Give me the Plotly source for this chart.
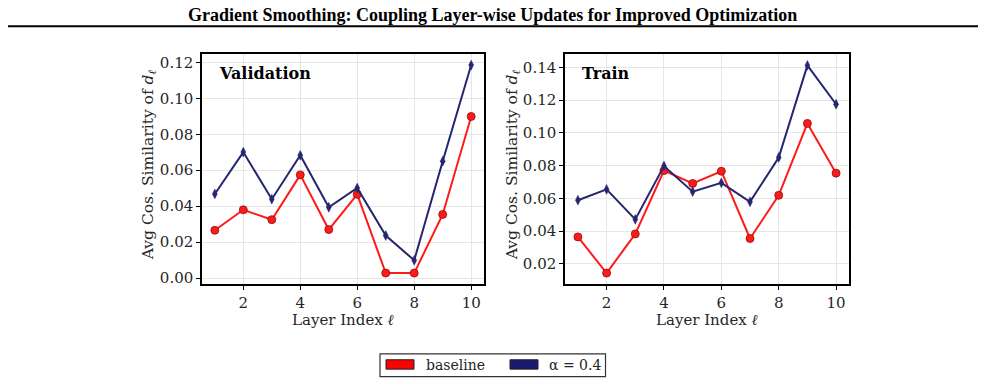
import plotly.graph_objects as go

layers = [1, 2, 3, 4, 5, 6, 7, 8, 9, 10]
val_baseline = [0.0266, 0.0380, 0.0325, 0.0574, 0.0270, 0.0466, 0.0028, 0.0028, 0.0354, 0.0899]
val_alpha = [0.0468, 0.0701, 0.0439, 0.0683, 0.0394, 0.0501, 0.0237, 0.0099, 0.0650, 0.1185]
train_baseline = [0.0365, 0.0144, 0.0383, 0.0770, 0.0691, 0.0766, 0.0355, 0.0619, 0.1058, 0.0754]
train_alpha = [0.0589, 0.0655, 0.0472, 0.0798, 0.0641, 0.0695, 0.0579, 0.0850, 0.1412, 0.1175]
val_yticks = [0.00, 0.02, 0.04, 0.06, 0.08, 0.10, 0.12]
train_yticks = [0.02, 0.04, 0.06, 0.08, 0.10, 0.12, 0.14]
x_ticks = [2, 4, 6, 8, 10]
series_names = ["baseline", "α = 0.4"]
panel_names = ["Validation", "Train"]

W, H = 985, 387
RED = "#ff1a1a"
RED_EDGE = "#8a1010"
NAVY = "#25266f"
NAVY_SW = "#191970"
TXT = "#262626"
SERIF = "DejaVu Serif"

def px_x(v):
    return v / W

def px_y(v):
    return 1 - v / H

fig = go.Figure()

panels = [
    ("x", "y", val_baseline, val_alpha),
    ("x2", "y2", train_baseline, train_alpha),
]
for xa, ya, b, a in panels:
    fig.add_trace(go.Scatter(
        x=layers, y=b, xaxis=xa, yaxis=ya, mode="lines+markers",
        line=dict(color=RED, width=2),
        marker=dict(symbol="circle", size=8, color=RED, line=dict(color=RED_EDGE, width=0.8)),
        showlegend=False, name=series_names[0]))
    fig.add_trace(go.Scatter(
        x=layers, y=a, xaxis=xa, yaxis=ya, mode="lines+markers",
        line=dict(color=NAVY, width=2),
        marker=dict(symbol="diamond-tall", size=7, color=NAVY, line=dict(color=NAVY, width=0.5)),
        showlegend=False, name=series_names[1]))

ax_common = dict(
    showline=True, linecolor="black", linewidth=1.5, mirror=True,
    ticks="outside", ticklen=4, tickwidth=1, tickcolor="black",
    showgrid=True, gridcolor="#e6e6e6", gridwidth=1, zeroline=False,
    tickfont=dict(family=SERIF, size=15, color=TXT),
)

fig.update_layout(
    width=W, height=H, margin=dict(l=0, r=0, t=0, b=0),
    paper_bgcolor="white", plot_bgcolor="white",
    showlegend=False,
    xaxis=dict(domain=[px_x(202), px_x(484)], range=[0.55, 10.45], tickvals=x_ticks, anchor="y", **ax_common),
    yaxis=dict(domain=[px_y(286), px_y(54)], range=[-0.0033, 0.1244], tickvals=val_yticks,
               tickformat=".2f", anchor="x", **ax_common),
    xaxis2=dict(domain=[px_x(565), px_x(849)], range=[0.55, 10.45], tickvals=x_ticks, anchor="y2", **ax_common),
    yaxis2=dict(domain=[px_y(286), px_y(54)], range=[0.0077, 0.1479], tickvals=train_yticks,
                tickformat=".2f", anchor="x2", **ax_common),
)

ann = []
# Title
ann.append(dict(text="<b>Gradient Smoothing: Coupling Layer-wise Updates for Improved Optimization</b>",
                x=0.5, y=px_y(14), xref="paper", yref="paper", showarrow=False,
                font=dict(family="Liberation Serif", size=18, color="black"),
                xanchor="center", yanchor="middle"))
# Panel labels
for lx, name in [(217, panel_names[0]), (580, panel_names[1])]:
    ann.append(dict(text="<b>" + name + "</b>", x=px_x(lx), y=px_y(73), xref="paper", yref="paper",
                    showarrow=False, xanchor="left", yanchor="middle",
                    font=dict(family=SERIF, size=16, color="black")))
# Axis titles
for cx in [(202 + 484) / 2, (565 + 849) / 2]:
    ann.append(dict(text="Layer Index <i>ℓ</i>", x=px_x(cx), y=px_y(322.5), xref="paper", yref="paper",
                    showarrow=False, xanchor="center", yanchor="middle",
                    font=dict(family=SERIF, size=15, color=TXT)))
for cx in [149, 513]:
    ann.append(dict(text="Avg Cos. Similarity of <i>d</i><sub><i>ℓ</i></sub>", x=px_x(cx), y=px_y(166),
                    xref="paper", yref="paper", showarrow=False, textangle=-90,
                    xanchor="center", yanchor="middle",
                    font=dict(family=SERIF, size=15.5, color=TXT)))
# Legend text
ann.append(dict(text=series_names[0], x=px_x(424), y=px_y(368), xref="paper", yref="paper",
                showarrow=False, xanchor="left", yanchor="middle",
                font=dict(family=SERIF, size=14, color=TXT)))
ann.append(dict(text=series_names[1], x=px_x(547), y=px_y(368), xref="paper", yref="paper",
                showarrow=False, xanchor="left", yanchor="middle",
                font=dict(family=SERIF, size=14, color=TXT)))

shapes = []
# Title rule
shapes.append(dict(type="line", xref="paper", yref="paper", x0=px_x(8), x1=px_x(978),
                   y0=px_y(25.5), y1=px_y(25.5), line=dict(color="black", width=2)))
# Legend box
shapes.append(dict(type="rect", xref="paper", yref="paper", x0=px_x(380), x1=px_x(605.5),
                   y0=px_y(379.5), y1=px_y(356.5), line=dict(color="#333333", width=1.2),
                   fillcolor="white"))
shapes.append(dict(type="rect", xref="paper", yref="paper", x0=px_x(386), x1=px_x(414),
                   y0=px_y(372), y1=px_y(362.5), line=dict(color="#222222", width=1), fillcolor="#ff0000"))
shapes.append(dict(type="rect", xref="paper", yref="paper", x0=px_x(510), x1=px_x(538),
                   y0=px_y(372), y1=px_y(362.5), line=dict(color="#222222", width=1), fillcolor=NAVY_SW))

fig.update_layout(annotations=ann, shapes=shapes)
fig.write_html("out.html")
